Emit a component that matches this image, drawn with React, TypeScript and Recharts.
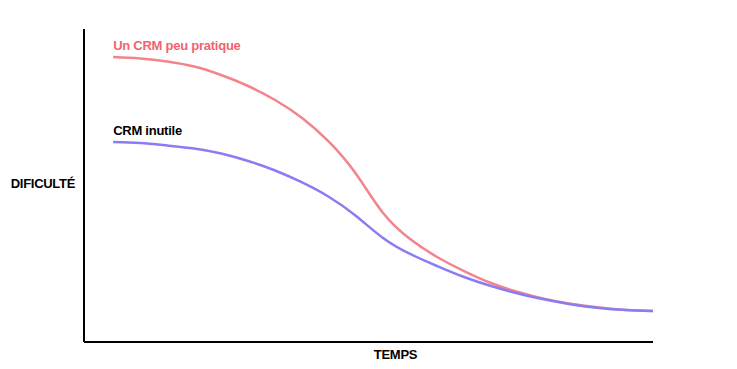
import React from "react";
import { LineChart, Line, XAxis, YAxis, Label, LabelList } from "recharts";

const times = [0, 5, 10, 15, 20, 25, 30, 35, 40, 45, 50, 55, 60, 65, 70, 75, 80, 85, 90, 95, 100];
const crmPeuPratique = [91.05, 90.58, 89.62, 88.02, 85.3, 81.79, 77.32, 71.57, 63.9, 53.67, 41.21, 32.91, 27.16, 22.68, 18.85, 15.97, 13.74, 12.14, 11.02, 10.22, 9.9];
const crmInutile = [63.9, 63.58, 62.78, 61.82, 60.22, 57.83, 54.79, 50.96, 46.33, 40.26, 33.23, 28.12, 24.28, 20.77, 17.89, 15.5, 13.58, 11.98, 10.86, 10.22, 9.9];
const seriesNames = ["Un CRM peu pratique", "CRM inutile"];
const axisTitles = { x: "TEMPS", y: "DIFICULTÉ" };

const data = times.map((t, i) => ({ t, a: crmPeuPratique[i], b: crmInutile[i] }));

const FONT = "'Liberation Sans', Arial, Helvetica, sans-serif";

const seriesLabel = (text: string, color: string) => (props: any) => {
  if (props.index !== 0) return null;
  return (
    <text x={props.x} y={props.y - 7} fill={color} fontFamily={FONT} fontWeight="bold" fontSize={13} letterSpacing={-0.25}>
      {text}
    </text>
  );
};

export default function App() {
  return (
    <div style={{ position: "absolute", left: 0, top: 0, width: 737, height: 369, background: "#fff" }}>
      <LineChart width={737} height={369} data={data} margin={{ top: 29, right: 84, bottom: 26, left: 83 }}>
        <XAxis
          dataKey="t"
          type="number"
          domain={[-5.4, 100]}
          tick={false}
          tickLine={false}
          height={1}
          axisLine={{ stroke: "#000", strokeWidth: 2 }}
        >
          <Label
            content={(p: any) => {
              const vb = p.viewBox;
              return (
                <text x={vb.x + vb.width / 2 + 27} y={vb.y + 17} textAnchor="middle" fontFamily={FONT} fontWeight="bold" fontSize={13} letterSpacing={-0.3} fill="#000">
                  {axisTitles.x}
                </text>
              );
            }}
          />
        </XAxis>
        <YAxis
          type="number"
          domain={[0, 100]}
          tick={false}
          tickLine={false}
          width={1}
          axisLine={{ stroke: "#000", strokeWidth: 2 }}
        >
          <Label
            content={(p: any) => {
              const vb = p.viewBox;
              return (
                <text x={vb.x + vb.width - 9} y={vb.y + vb.height / 2 + 2} textAnchor="end" fontFamily={FONT} fontWeight="bold" fontSize={13} letterSpacing={-0.3} fill="#000">
                  {axisTitles.y}
                </text>
              );
            }}
          />
        </YAxis>
        <Line type="natural" dataKey="a" stroke="#f2848c" strokeWidth={2.5} dot={false} isAnimationActive={false}>
          <LabelList dataKey="a" content={seriesLabel(seriesNames[0], "#f0646f")} />
        </Line>
        <Line type="natural" dataKey="b" stroke="#8a7cf2" strokeWidth={2.5} dot={false} isAnimationActive={false}>
          <LabelList dataKey="b" content={seriesLabel(seriesNames[1], "#000")} />
        </Line>
      </LineChart>
    </div>
  );
}
